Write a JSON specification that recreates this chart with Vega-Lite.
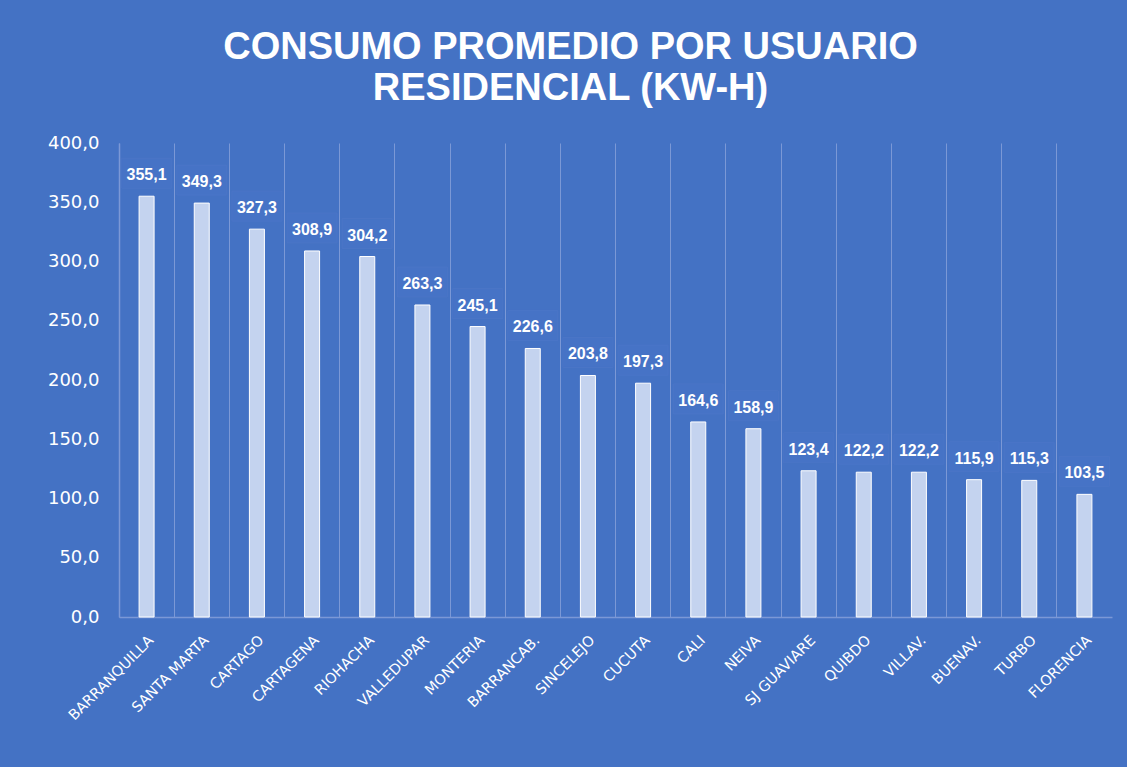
{
  "$schema": "https://vega.github.io/schema/vega-lite/v6.json",
  "width": 993,
  "height": 474,
  "autosize": {"type": "none"},
  "padding": {"left": 119, "top": 143, "right": 15, "bottom": 150},
  "background": "#4472C4",
  "title": {
    "text": ["CONSUMO PROMEDIO POR USUARIO", "RESIDENCIAL (KW-H)"],
    "color": "white",
    "font": "Liberation Sans",
    "fontSize": 38,
    "fontWeight": "bold",
    "lineHeight": 41,
    "anchor": "middle",
    "dx": -45,
    "offset": 26
  },
  "config": {
    "locale": {"number": {"decimal": ",", "thousands": ".", "grouping": [3], "currency": ["$", ""]}},
    "view": {"stroke": null},
    "font": "Liberation Sans"
  },
  "data": {
    "values": [
      {"ciudad": "BARRANQUILLA", "consumo": 355.1},
      {"ciudad": "SANTA MARTA", "consumo": 349.3},
      {"ciudad": "CARTAGO", "consumo": 327.3},
      {"ciudad": "CARTAGENA", "consumo": 308.9},
      {"ciudad": "RIOHACHA", "consumo": 304.2},
      {"ciudad": "VALLEDUPAR", "consumo": 263.3},
      {"ciudad": "MONTERIA", "consumo": 245.1},
      {"ciudad": "BARRANCAB.", "consumo": 226.6},
      {"ciudad": "SINCELEJO", "consumo": 203.8},
      {"ciudad": "CUCUTA", "consumo": 197.3},
      {"ciudad": "CALI", "consumo": 164.6},
      {"ciudad": "NEIVA", "consumo": 158.9},
      {"ciudad": "SJ GUAVIARE", "consumo": 123.4},
      {"ciudad": "QUIBDO", "consumo": 122.2},
      {"ciudad": "VILLAV.", "consumo": 122.2},
      {"ciudad": "BUENAV.", "consumo": 115.9},
      {"ciudad": "TURBO", "consumo": 115.3},
      {"ciudad": "FLORENCIA", "consumo": 103.5}
    ]
  },
  "encoding": {
    "x": {
      "field": "ciudad",
      "type": "nominal",
      "sort": null,
      "title": null,
      "scale": {"paddingInner": 0, "paddingOuter": 0},
      "axis": {
        "labelAngle": -45,
        "labelColor": "white",
        "labelFont": "DejaVu Sans",
        "labelFontSize": 14.5,
        "labelPadding": 16,
        "ticks": false,
        "grid": true,
        "bandPosition": 0,
        "gridColor": "#7b98d6",
        "gridWidth": 1,
        "domainColor": "#7b98d6",
        "domainWidth": 1.5
      }
    },
    "y": {
      "field": "consumo",
      "type": "quantitative",
      "title": null,
      "scale": {"domain": [0, 400], "nice": false},
      "axis": {
        "values": [0, 50, 100, 150, 200, 250, 300, 350, 400],
        "format": ".1f",
        "labelColor": "white",
        "labelFont": "DejaVu Sans",
        "labelFontSize": 18,
        "labelPadding": 20,
        "ticks": false,
        "grid": false,
        "domainColor": "#7b98d6",
        "domainWidth": 1.5
      }
    }
  },
  "layer": [
    {
      "mark": {"type": "bar", "width": 50, "yOffset": -38, "y2Offset": -8, "fill": "#4673c6", "stroke": "#5079c8", "strokeWidth": 0.5},
      "encoding": {"y2": {"field": "consumo"}}
    },
    {
      "mark": {"type": "bar", "width": 15, "fill": "#c4d3ef", "stroke": "#ffffff", "strokeWidth": 1}
    },
    {
      "mark": {"type": "text", "dy": -21, "color": "white", "fontSize": 16, "fontWeight": "bold", "font": "Liberation Sans", "baseline": "middle"},
      "encoding": {"text": {"field": "consumo", "type": "quantitative", "format": ".1f"}}
    }
  ]
}
